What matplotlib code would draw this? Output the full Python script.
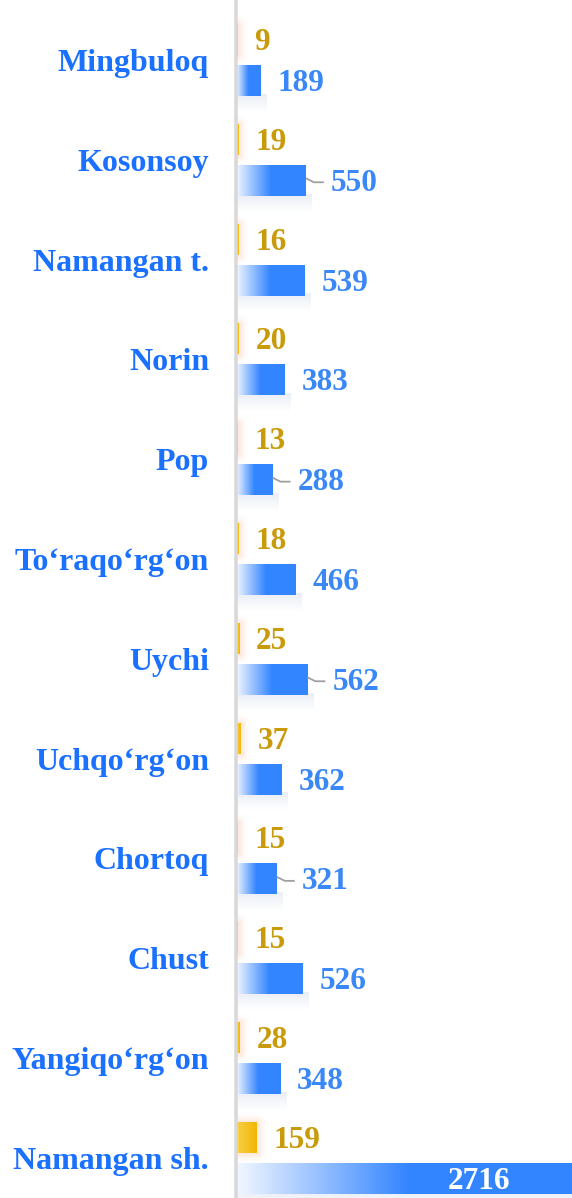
import matplotlib
matplotlib.use("Agg")
import matplotlib.pyplot as plt
import numpy as np
from matplotlib.colors import to_rgb

# data
districts = ["Mingbuloq", "Kosonsoy", "Namangan t.", "Norin", "Pop", "To‘raqo‘rg‘on",
             "Uychi", "Uchqo‘rg‘on", "Chortoq", "Chust", "Yangiqo‘rg‘on", "Namangan sh."]
gold_vals = [9, 19, 16, 20, 13, 18, 25, 37, 15, 15, 28, 159]
blue_vals = [189, 550, 539, 383, 288, 466, 562, 362, 321, 526, 348, 2716]
# which blue labels are pushed out with a small leader line
leader = [False, True, False, False, True, False, True, False, True, False, False, False]

W, H, DPI = 572, 1198, 100
AX_LEFT = 236          # px of the zero line
PX_PER_UNIT = 0.127    # px per value unit
ROW = 99.8             # px between categories
FIRST = 60             # px of the first category centre
BAR_H = 0.31
OFF = 0.205

BLUE = "#3385ff"
BLUE_TXT = "#3a88f7"
CAT_TXT = "#1a70ff"
GOLD = "#f2b705"
GOLD_TXT = "#c99a0a"
FS_VAL = 22.5
FS_CAT = 23

plt.rcParams["font.family"] = ["Liberation Serif", "DejaVu Serif"]

fig = plt.figure(figsize=(W / DPI, H / DPI), dpi=DPI)
ax = fig.add_axes([AX_LEFT / W, 0, 1 - AX_LEFT / W, 1])
xmax = (W - AX_LEFT) / PX_PER_UNIT
ytop = -FIRST / ROW
ybot = (H - FIRST) / ROW


def px2pt(p):
    return p * 72 / DPI


def gradient(c0, c1, stop=0.5, n=256):
    t = np.clip(np.linspace(0, 1, n) / stop, 0, 1)[None, :, None]
    a, b = np.array(to_rgb(c0)), np.array(to_rgb(c1))
    return a + (b - a) * t


def glow(w_px, h_px, pad, color, strength, spread):
    # soft halo around a w_px x h_px box
    xs = np.arange(w_px + 2 * pad) - pad
    ys = np.arange(h_px + 2 * pad) - pad
    dx = np.maximum(np.maximum(-xs, xs - w_px), 0)[None, :]
    dy = np.maximum(np.maximum(-ys, ys - h_px), 0)[:, None]
    d = np.sqrt(dx ** 2 + dy ** 2)
    img = np.zeros((len(ys), len(xs), 4))
    img[..., :3] = to_rgb(color)
    img[..., 3] = strength * np.exp(-(d / spread) ** 2)
    return img


blue_img = gradient("#f2f7ff", BLUE, 0.5)
gold_img = gradient("#f7d04a", GOLD, 1.0)

# soft shadow below a bar: fades downward
shadow = np.zeros((20, 1, 4))
shadow[..., :3] = to_rgb("#b9c8e0")
shadow[:, 0, 3] = np.linspace(0.3, 0.0, 20)

bar_px = BAR_H * ROW
lab_dy = px2pt(-3)

for i, (g, b) in enumerate(zip(gold_vals, blue_vals)):
    yg = i - OFF
    yb = i + OFF

    # gold bar with a warm glow
    pad = 10
    gw = max(int(round(g * PX_PER_UNIT)), 1)
    halo = glow(gw, int(bar_px), pad, "#f4a070", 0.22, 5)
    ax.imshow(halo, extent=[-pad / PX_PER_UNIT, g + pad / PX_PER_UNIT,
                            yg + BAR_H / 2 + pad / ROW, yg - BAR_H / 2 - pad / ROW],
              aspect="auto", interpolation="bilinear", zorder=2)
    ax.imshow(gold_img, extent=[0, g, yg + BAR_H / 2, yg - BAR_H / 2],
              aspect="auto", interpolation="bilinear", zorder=3)

    # blue bar with shadow
    ax.imshow(shadow, extent=[0, b + 6 / PX_PER_UNIT, yb + BAR_H / 2 + 0.17, yb + BAR_H / 2 - 0.02],
              aspect="auto", interpolation="bilinear", zorder=2)
    ax.imshow(blue_img, extent=[0, b, yb + BAR_H / 2, yb - BAR_H / 2],
              aspect="auto", interpolation="bilinear", zorder=3)

    ax.annotate(str(g), xy=(g, yg), xytext=(px2pt(17), lab_dy), textcoords="offset points",
                ha="left", va="center", fontsize=FS_VAL, fontweight="bold", color=GOLD_TXT,
                zorder=5)

    if b > xmax:
        ax.annotate(str(b), xy=(xmax, yb), xytext=(px2pt(-62), lab_dy), textcoords="offset points",
                    ha="right", va="center", fontsize=FS_VAL, fontweight="bold", color="white",
                    zorder=5)
    elif leader[i]:
        x0 = b
        x1 = b + 8 / PX_PER_UNIT
        x2 = b + 18 / PX_PER_UNIT
        ax.plot([x0, x1, x2], [yb - 0.02, yb + 0.02, yb + 0.02], color="#a0a0a0", lw=1.3,
                zorder=4, solid_capstyle="butt")
        ax.annotate(str(b), xy=(b, yb), xytext=(px2pt(25), lab_dy), textcoords="offset points",
                    ha="left", va="center", fontsize=FS_VAL, fontweight="bold", color=BLUE_TXT,
                    zorder=5)
    else:
        ax.annotate(str(b), xy=(b, yb), xytext=(px2pt(17), lab_dy), textcoords="offset points",
                    ha="left", va="center", fontsize=FS_VAL, fontweight="bold", color=BLUE_TXT,
                    zorder=5)

ax.set_xlim(0, xmax)
ax.set_ylim(ybot, ytop)
ax.set_yticks(range(len(districts)))
ax.set_yticklabels(districts, fontsize=FS_CAT, fontweight="bold", color=CAT_TXT)
ax.tick_params(axis="y", length=0, pad=px2pt(27))
ax.set_xticks([])
for s in ["top", "right", "bottom"]:
    ax.spines[s].set_visible(False)
ax.spines["left"].set_color("#d8d8d8")
ax.spines["left"].set_linewidth(px2pt(3.5))
ax.spines["left"].set_zorder(6)

fig.savefig("out.png", dpi=DPI)
